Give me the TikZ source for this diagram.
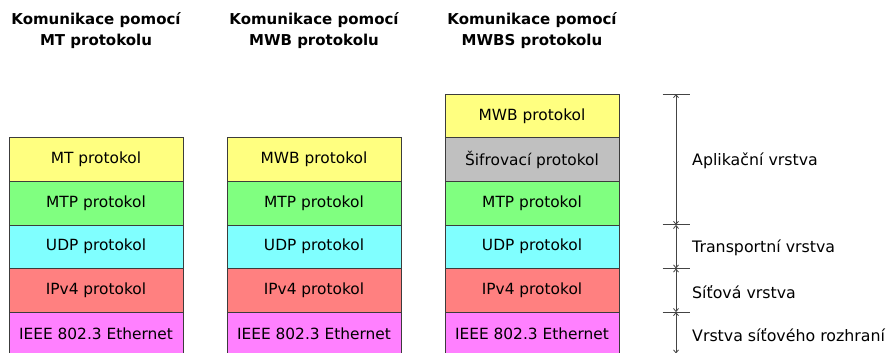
\documentclass[tikz,border=0pt]{standalone}
\usepackage{fontspec}
\setmainfont{DejaVu Sans}
\usetikzlibrary{arrows.meta}

\definecolor{cyellow}{HTML}{FFFF80}
\definecolor{cgreen}{HTML}{80FF80}
\definecolor{ccyan}{HTML}{80FFFF}
\definecolor{cred}{HTML}{FF8080}
\definecolor{cmagenta}{HTML}{FF80FF}
\definecolor{cgray}{HTML}{C0C0C0}
\definecolor{edge}{HTML}{3C3C3C}
\definecolor{scale}{HTML}{444444}

\tikzset{
  layer/.style={draw=edge, line width=0.8pt, rectangle, minimum width=174pt,
    minimum height=43.6pt, inner sep=0pt, font=\fontsize{15.4}{18}\selectfont},
  heading/.style={align=center, font=\fontsize{15}{21}\selectfont\bfseries},
  levellabel/.style={anchor=west, inner sep=0pt, font=\fontsize{15.8}{18}\selectfont},
  tickline/.style={draw=scale, line width=1pt},
  span/.style={draw=scale, line width=0.8pt,
    {Straight Barb[length=3pt,width=5pt]}-{Straight Barb[length=3pt,width=5pt]}}
}

\begin{document}
\begin{tikzpicture}[x=1pt, y=-1pt]
\useasboundingbox (0,0) rectangle (888,353);

% column headings
\node[heading] (h1) at (96,31) {Komunikace pomocí\\MT protokolu};
\node[heading] (h2) at (314,31) {Komunikace pomocí\\MWB protokolu};
\node[heading] (h3) at (532,31) {Komunikace pomocí\\MWBS protokolu};

% stack 1: MT
\node[layer, fill=cyellow]  (a1) at (96,159.5) {MT protokol};
\node[layer, fill=cgreen]   (a2) at (96,203.1) {MTP protokol};
\node[layer, fill=ccyan]    (a3) at (96,246.7) {UDP protokol};
\node[layer, fill=cred]     (a4) at (96,290.3) {IPv4 protokol};
\node[layer, fill=cmagenta] (a5) at (96,333.9) {IEEE 802.3 Ethernet};

% stack 2: MWB
\node[layer, fill=cyellow]  (b1) at (314,159.5) {MWB protokol};
\node[layer, fill=cgreen]   (b2) at (314,203.1) {MTP protokol};
\node[layer, fill=ccyan]    (b3) at (314,246.7) {UDP protokol};
\node[layer, fill=cred]     (b4) at (314,290.3) {IPv4 protokol};
\node[layer, fill=cmagenta] (b5) at (314,333.9) {IEEE 802.3 Ethernet};

% stack 3: MWBS
\node[layer, fill=cyellow]  (c0) at (532,115.9) {MWB protokol};
\node[layer, fill=cgray]    (c1) at (532,159.5) {Šifrovací protokol};
\node[layer, fill=cgreen]   (c2) at (532,203.1) {MTP protokol};
\node[layer, fill=ccyan]    (c3) at (532,246.7) {UDP protokol};
\node[layer, fill=cred]     (c4) at (532,290.3) {IPv4 protokol};
\node[layer, fill=cmagenta] (c5) at (532,333.9) {IEEE 802.3 Ethernet};

% layer scale on the right
\coordinate (s0) at (676,94.1);
\coordinate (s1) at (676,224.9);
\coordinate (s2) at (676,268.5);
\coordinate (s3) at (676,312.1);
\coordinate (s4) at (676,353.5);

\foreach \k in {0,1,2,3}{
  \draw[tickline] ([xshift=-13.5pt]s\k) -- ([xshift=13.5pt]s\k);
}
\draw[span] (s0) -- (s1);
\draw[span] (s1) -- (s2);
\draw[span] (s2) -- (s3);
\draw[span] (s3) -- (s4);

\node[levellabel] (l1) at (692,161) {Aplikační vrstva};
\node[levellabel] (l2) at (692,248) {Transportní vrstva};
\node[levellabel] (l3) at (692,292) {Síťová vrstva};
\node[levellabel] (l4) at (692,335) {Vrstva síťového rozhraní};
\end{tikzpicture}
\end{document}
